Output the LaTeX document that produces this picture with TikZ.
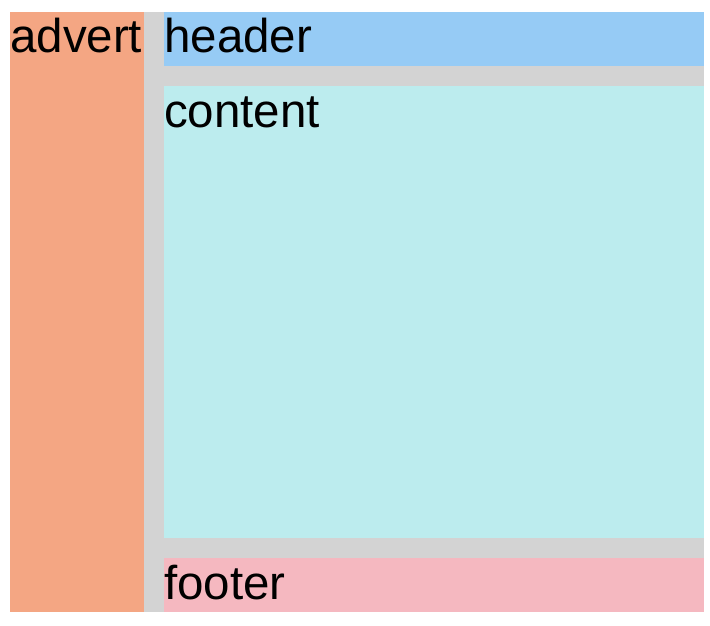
\documentclass[tikz,border=0pt]{standalone}
\usepackage{fontspec}
\setmainfont{Liberation Sans}
\usetikzlibrary{positioning}

\definecolor{advertcol}{HTML}{F4A683}
\definecolor{headercol}{HTML}{96CBF5}
\definecolor{contentcol}{HTML}{BCECEE}
\definecolor{footercol}{HTML}{F5B8C0}
\definecolor{gapcol}{HTML}{D3D3D3}

\tikzset{
    area/.style = {anchor = base west, inner sep = 0pt, font = \fontsize{47.5}{57}\selectfont}
}

\begin{document}
\begin{tikzpicture}[x = 1pt, y = -1pt]
            \useasboundingbox (0, 0) rectangle (710, 626);
            % grid background and the four areas
            \fill[gapcol] (10, 12) rectangle (704, 612);
            \fill[advertcol] (10, 12) rectangle (144, 612);
            \fill[headercol] (164, 12) rectangle (704, 66);
            \fill[contentcol] (164, 86) rectangle (704, 538);
            \fill[footercol] (164, 558) rectangle (704, 612);
            \node[area] (advert) at (10, 53) {advert};
            \node[area] (header) at (164, 53) {header};
            \node[area] (content) at (164, 127) {content};
            \node[area] (footer) at (164, 599) {footer};
        \end{tikzpicture}
\end{document}
